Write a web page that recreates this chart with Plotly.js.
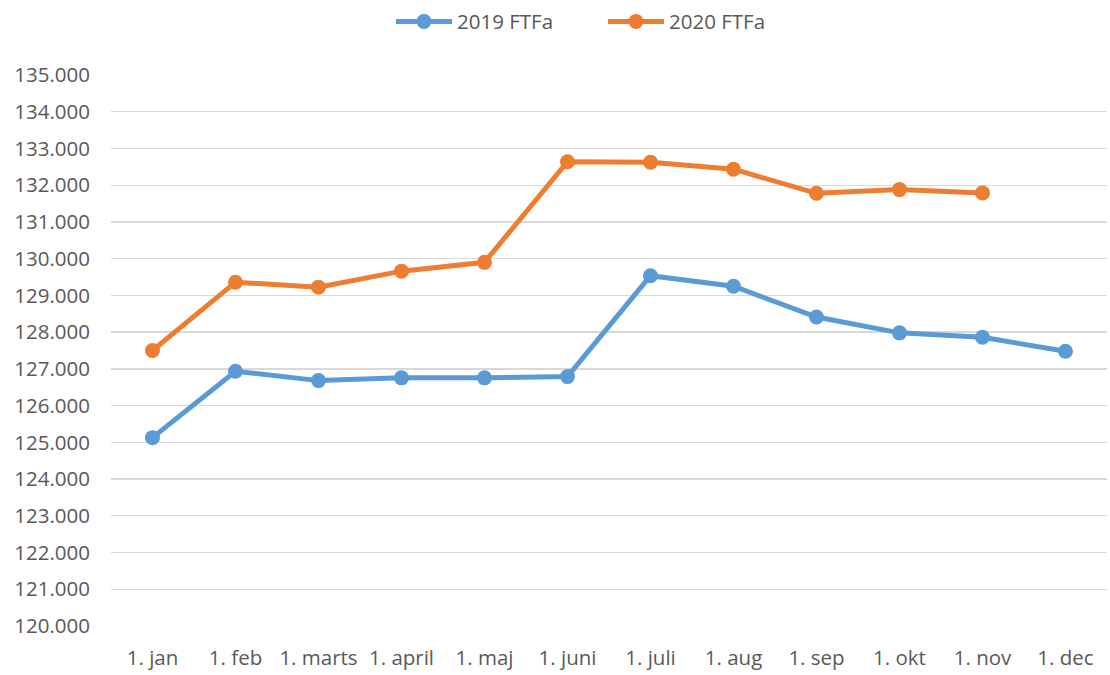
<!DOCTYPE html>
<html>
<head>
<meta charset="utf-8">
<script src="https://cdn.plot.ly/plotly-3.0.1.min.js"></script>
<style>html,body{margin:0;padding:0;background:#fff;}#chart{width:1110px;height:675px;}</style>
</head>
<body>
<div id="chart"></div>
<script>
var months = ["1. jan","1. feb","1. marts","1. april","1. maj","1. juni","1. juli","1. aug","1. sep","1. okt","1. nov","1. dec"];
var series2019Name = "2019 FTFa";
var series2020Name = "2020 FTFa";
var values2019 = [125128, 126935, 126680, 126755, 126755, 126790, 129535, 129250, 128410, 127980, 127860, 127480];
var values2020 = [127500, 129360, 129225, 129660, 129900, 132640, 132625, 132435, 131780, 131880, 131790];

var traces = [
  {x: months, y: values2019, name: series2019Name, type: 'scatter', mode: 'lines+markers',
   line: {color: '#5B9BD5', width: 5}, marker: {color: '#5B9BD5', size: 15}},
  {x: months.slice(0, values2020.length), y: values2020, name: series2020Name, type: 'scatter', mode: 'lines+markers',
   line: {color: '#ED7D31', width: 5}, marker: {color: '#ED7D31', size: 15}}
];

var layout = {
  width: 1110, height: 675,
  margin: {l: 111, r: 3, t: 74, b: 49},
  paper_bgcolor: '#fff', plot_bgcolor: '#fff',
  separators: ',.',
  font: {family: 'Open Sans, sans-serif', size: 20.5, color: '#595959'},
  showlegend: true,
  legend: {orientation: 'h', x: 0.2811, xanchor: 'left', y: 1.095, yanchor: 'middle',
           itemwidth: 56, entrywidth: 141, entrywidthmode: 'pixels',
           font: {size: 20.5, color: '#595959'}},
  xaxis: {type: 'category', range: [-0.5, 11.5], showgrid: false, zeroline: false,
          showline: false, ticks: '', ticklabelstandoff: 17, fixedrange: true},
  yaxis: {range: [120000, 135000], dtick: 1000, tickformat: ',.0f', showgrid: true,
          gridcolor: '#D9D9D9', gridwidth: 1.3, zeroline: false, showline: false,
          ticks: '', ticklabelstandoff: 20, fixedrange: true}
};

Plotly.newPlot('chart', traces, layout, {displayModeBar: false, staticPlot: true});
</script>
</body>
</html>
